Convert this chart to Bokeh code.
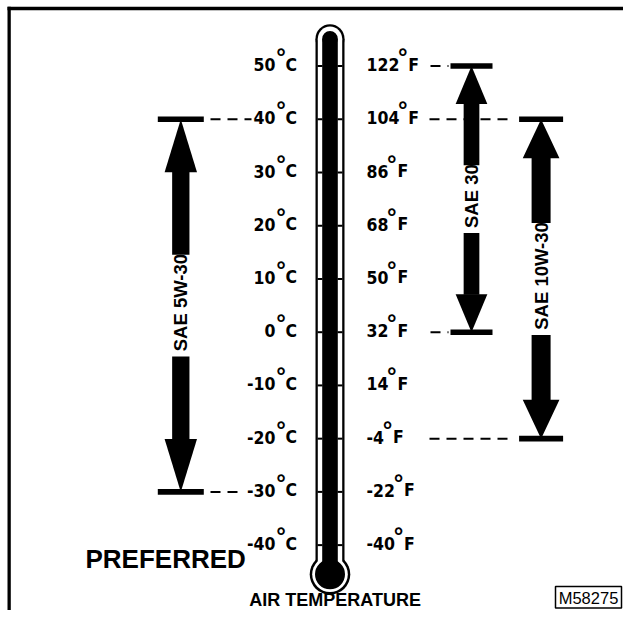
import math
from bokeh.plotting import figure
from bokeh.models import Range1d
from bokeh.core.properties import value
from bokeh.embed import file_html
from bokeh.resources import INLINE

# ---------------- data ----------------
temps_c = [50, 40, 30, 20, 10, 0, -10, -20, -30, -40]
temps_f = [122, 104, 86, 68, 50, 32, 14, -4, -22, -40]
grades = ["SAE 5W-30", "SAE 30", "SAE 10W-30"]
grade_low_c = [-30, 0, -20]
grade_high_c = [40, 50, 40]
axis_title = "AIR TEMPERATURE"
note_text = "PREFERRED"
code_text = "M58275"

# ---------------- layout (pixels) ----------------
W, H = 623, 610
Y0, K = 331.7, 5.323          # pixel y of 0 degC, pixels per degC


def ty(py):
    return (Y0 - py) / K


def dpx(px):
    return px / K


band_x = [180.3, 471.0, 540.6]
bar_w = [46.0, 42.0, 44.0]
shaft_w = [17.3, 15.7, 19.0]
head_w = [32.4, 31.7, 36.7]
head_len = [53.0, 38.0, 39.0]
dash_x0 = [210.0, 430.0, 429.0]
dash_x1_hi = [251.0, 448.0, 514.0]
dash_x1_lo = [240.0, 448.0, 514.0]

NUM_FONT = value("DejaVu Sans Condensed")
SANS = value("Liberation Sans")
NUM_PX = 17.5
NUM_FS = f"{NUM_PX}px"

p = figure(width=W, height=H, x_range=Range1d(0, W), y_range=Range1d(ty(H), ty(0)),
           output_backend="svg", toolbar_location=None, x_axis_location=None,
           y_axis_location=None, min_border=0, outline_line_color=None)
p.xgrid.visible = False
p.ygrid.visible = False
p.background_fill_color = "white"

# frame lines
p.quad(left=[7], right=[W + 5], top=[ty(6.3)], bottom=[ty(9.8)], fill_color="black", line_color=None)
p.quad(left=[7], right=[10.3], top=[ty(6.3)], bottom=[ty(H + 5)], fill_color="black", line_color=None)

# thermometer
cx = 329.5
top_c = ty(38.3)
bulb_c = ty(573.8)
for half, dtop, dbulb, col in [(14.5, 29.0, 40.6, "black"), (12.2, 24.4, 35.6, "white"),
                               (7.8, 15.6, 30.0, "black")]:
    p.quad(left=[cx - half], right=[cx + half], top=[top_c], bottom=[bulb_c],
           fill_color=col, line_color=None)
    p.scatter([cx], [top_c], size=dtop, marker="circle", fill_color=col, line_color=None)
    p.scatter([cx], [bulb_c], size=dbulb, marker="circle", fill_color=col, line_color=None)
p.segment(x0=[317.0] * len(temps_c), x1=[322.0] * len(temps_c), y0=temps_c, y1=temps_c,
          line_color="black", line_width=2)
p.segment(x0=[337.0] * len(temps_c), x1=[342.0] * len(temps_c), y0=temps_c, y1=temps_c,
          line_color="black", line_width=2)

# Celsius labels
num_y = lambda t: t + dpx(1.5)
deg_y = lambda t: t + dpx(9.5)
p.text(x=[275] * len(temps_c), y=[num_y(t) for t in temps_c], text=[str(t) for t in temps_c],
       text_align="right", text_baseline="middle", text_font=NUM_FONT,
       text_font_style="bold", text_font_size=NUM_FS, text_color="black")
p.text(x=[280.5] * len(temps_c), y=[deg_y(t) for t in temps_c], text=["°"] * len(temps_c),
       text_align="center", text_baseline="middle", text_font=SANS,
       text_font_style="bold", text_font_size="24px", text_color="black")
p.text(x=[285] * len(temps_c), y=[num_y(t) for t in temps_c], text=["C"] * len(temps_c),
       text_align="left", text_baseline="middle", text_font=NUM_FONT,
       text_font_style="bold", text_font_size=NUM_FS, text_color="black")

# Fahrenheit labels
f_rows = [(f - 32) * 5.0 / 9.0 for f in temps_f]
f_str = [str(f) for f in temps_f]
f_w = [sum(0.374 if ch == "-" else 0.626 for ch in s) * NUM_PX for s in f_str]
p.text(x=[366] * len(temps_f), y=[num_y(r) for r in f_rows], text=f_str,
       text_align="left", text_baseline="middle", text_font=NUM_FONT,
       text_font_style="bold", text_font_size=NUM_FS, text_color="black")
p.text(x=[366 + w + 3.5 for w in f_w], y=[deg_y(r) for r in f_rows], text=["°"] * len(temps_f),
       text_align="center", text_baseline="middle", text_font=SANS,
       text_font_style="bold", text_font_size="24px", text_color="black")
p.text(x=[366 + w + 9 for w in f_w], y=[num_y(r) for r in f_rows], text=["F"] * len(temps_f),
       text_align="left", text_baseline="middle", text_font=NUM_FONT,
       text_font_style="bold", text_font_size=NUM_FS, text_color="black")

# grade arrows
GRADE_FS = 18.5
for i, g in enumerate(grades):
    x = band_x[i]
    hi, lo = grade_high_c[i], grade_low_c[i]
    mid = (hi + lo) / 2.0
    for t, x1 in ((hi, dash_x1_hi[i]), (lo, dash_x1_lo[i])):
        p.segment(x0=[dash_x0[i]], x1=[x1], y0=[t], y1=[t], line_color="black",
                  line_width=2, line_dash="10 7")
    for t in (hi, lo):
        p.quad(left=[x - bar_w[i] / 2], right=[x + bar_w[i] / 2], top=[t + dpx(2.8)],
               bottom=[t - dpx(2.8)], fill_color="black", line_color=None)
    hl = dpx(head_len[i])
    hw = head_w[i] / 2
    p.patch([x, x - hw, x + hw], [hi, hi - hl, hi - hl], fill_color="black", line_color=None)
    p.patch([x, x - hw, x + hw], [lo, lo + hl, lo + hl], fill_color="black", line_color=None)
    tw = sum({" ": 0.278, "S": 0.667, "A": 0.722, "E": 0.667, "W": 0.944, "-": 0.333}.get(ch, 0.556)
             for ch in g) * GRADE_FS
    gap = dpx(tw / 2 + 2)
    sw = shaft_w[i] / 2
    p.quad(left=[x - sw], right=[x + sw], top=[hi - hl + dpx(0.5)], bottom=[mid + gap],
           fill_color="black", line_color=None)
    p.quad(left=[x - sw], right=[x + sw], top=[mid - gap], bottom=[lo + hl - dpx(0.5)],
           fill_color="black", line_color=None)
    p.text(x=[x], y=[mid + dpx(3)], text=[g], angle=math.pi / 2, text_align="center",
           text_baseline="middle", text_font=SANS, text_font_style="bold",
           text_font_size=f"{GRADE_FS}px", text_color="black")

# texts
p.text(x=[85], y=[ty(558)], text=[note_text], text_align="left", text_baseline="middle",
       text_font=SANS, text_font_style="bold", text_font_size="26px", text_color="black")
p.text(x=[334.7], y=[ty(599)], text=[axis_title], text_align="center", text_baseline="middle",
       text_font=SANS, text_font_style="bold", text_font_size="18px", text_color="black")
p.quad(left=[555], right=[621], top=[ty(586)], bottom=[ty(607.5)], fill_color="white",
       line_color="black", line_width=1.5)
p.text(x=[588], y=[ty(597)], text=[code_text], text_align="center", text_baseline="middle",
       text_font=SANS, text_font_size="16.5px", text_color="black")

open("out.html", "w").write(file_html(p, INLINE))
